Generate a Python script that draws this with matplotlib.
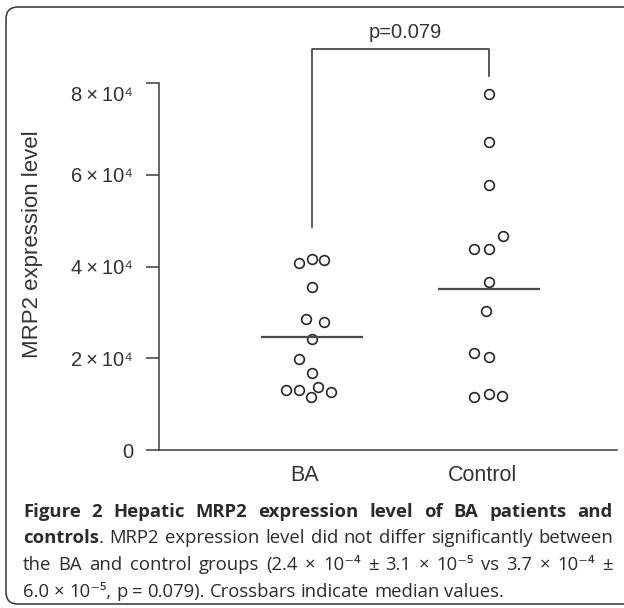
import matplotlib
matplotlib.use('Agg')
import matplotlib.pyplot as plt
from matplotlib.patches import FancyBboxPatch
from matplotlib.transforms import IdentityTransform, ScaledTranslation
import numpy as np

# data
groups = ['BA', 'Control']
ba_values = [4.07e4, 4.16e4, 4.14e4, 3.55e4, 2.86e4, 2.79e4, 2.42e4,
             1.98e4, 1.67e4, 1.31e4, 1.31e4, 1.37e4, 1.16e4, 1.26e4]
ctrl_values = [7.76e4, 6.71e4, 5.78e4, 4.66e4, 4.38e4, 4.38e4, 3.66e4,
               3.03e4, 2.11e4, 2.03e4, 1.16e4, 1.22e4, 1.18e4]
medians = [2.46e4, 3.51e4]
p_label = 'p=0.079'
yticks = [0, 2e4, 4e4, 6e4, 8e4]
ytick_labels = ['0', '2\u2009×\u200910⁴', '4\u2009×\u200910⁴',
                '6\u2009×\u200910⁴', '8\u2009×\u200910⁴']

# horizontal swarm offsets of the dots (group spacing = 1)
ba_dx = [-0.073, 0, 0.068, 0, -0.034, 0.068, 0, -0.073, 0, -0.147, -0.073, 0.034, -0.005, 0.107]
ctrl_dx = [0, 0, 0, 0.079, -0.085, 0, 0, -0.017, -0.085, 0, -0.085, 0, 0.073]

W, H = 624, 608
fig = plt.figure(figsize=(W / 100, H / 100), dpi=100)
fig.patch.set_facecolor('white')

line_c = '#3c3c3c'
text_c = '#333333'
sans = ['Liberation Sans', 'DejaVu Sans']

ax = fig.add_axes([159 / W, (H - 450) / H, (617 - 159) / W, (450 - 83) / H])
ax.set_xlim(-0.864, 1.723)
ax.set_ylim(0, 8e4)
for s in ['top', 'right']:
    ax.spines[s].set_visible(False)
for s in ['left', 'bottom']:
    ax.spines[s].set_linewidth(1.1)
    ax.spines[s].set_color(line_c)

ax.set_yticks(yticks, ytick_labels)
ax.set_xticks([0, 1], groups)
ax.tick_params(axis='y', length=9.4, width=1.1, pad=9.4, color=line_c,
               labelcolor=text_c, labelsize=14.5)
ax.tick_params(axis='x', length=0, pad=11, labelcolor=text_c, labelsize=15.5)
for lab in ax.get_yticklabels() + ax.get_xticklabels():
    lab.set_family(sans)
# top label sits a little below its tick in the original
top = ax.get_yticklabels()[-1]
top.set_transform(top.get_transform() + ScaledTranslation(0, -0.10, fig.dpi_scale_trans))
for lab in ax.get_xticklabels():
    lab.set_transform(lab.get_transform() + ScaledTranslation(-0.07, 0, fig.dpi_scale_trans))

# dots
ax.plot(np.array(ba_dx) + 0, ba_values, 'o', mfc='none', mec='#262626',
        ms=7, mew=1.2, clip_on=False)
ax.plot(np.array(ctrl_dx) + 1, ctrl_values, 'o', mfc='none', mec='#262626',
        ms=7, mew=1.2, clip_on=False)

# median crossbars
centers = np.array([0, 1])
ax.hlines(medians, centers - 0.288, centers + 0.288, color='#4a4a4a', lw=1.6)

# significance bracket
ax.plot([0, 0, 1, 1], [4.86e4, 8.74e4, 8.74e4, 8.15e4], color=line_c,
        lw=1.2, clip_on=False)
ax.text(0.525, 9.09e4, p_label, ha='center', va='center', fontsize=14.5,
        color=text_c, family=sans, clip_on=False)

fig.text(33 / W, 1 - 244 / H, 'MRP2 expression level', rotation=90,
         ha='center', va='center', fontsize=16, color=text_c, family=sans)

# frame around figure + caption
frame = FancyBboxPatch((6 + 12, 4 + 12), 650, 597 - 24,
                       boxstyle='round,pad=12', transform=IdentityTransform(),
                       fill=False, ec='#333333', lw=1.1)
fig.patches.append(frame)

# caption, justified like the journal layout
cap_family = ['Open Sans', 'DejaVu Sans']
cap_size = 13.3
cap_c = '#2b2b2b'
renderer = fig.canvas.get_renderer()


def seg_width(s, bold):
    t = fig.text(0, 0, s, fontsize=cap_size, family=cap_family,
                 fontweight='bold' if bold else 'normal')
    w = t.get_window_extent(renderer).width
    t.remove()
    return w


def put_line(words, base, x0=23, x1=613, justify=True):
    widths = [sum(seg_width(s, b) for s, b in wd) for wd in words]
    if justify:
        gap = (x1 - x0 - sum(widths)) / (len(words) - 1)
    else:
        gap = seg_width('a a', False) - seg_width('aa', False)
    x = x0
    for wd, w in zip(words, widths):
        xx = x
        for s, b in wd:
            fig.text(xx / W, 1 - base / H, s, fontsize=cap_size, family=cap_family,
                     fontweight='bold' if b else 'normal', color=cap_c,
                     ha='left', va='baseline')
            xx += seg_width(s, b)
        x += w + gap


def words_of(text, bold):
    return [[(w, bold)] for w in text.split()]


line1 = words_of('Figure 2 Hepatic MRP2 expression level of BA patients and', True)
line2 = [[('controls', True), ('.', False)]] + words_of(
    'MRP2 expression level did not differ significantly between', False)
line3 = words_of('the BA and control groups (2.4 × 10⁻⁴ ± 3.1 × 10⁻⁵ vs 3.7 × 10⁻⁴ ±', False)
line4 = words_of('6.0 × 10⁻⁵, p = 0.079). Crossbars indicate median values.', False)

put_line(line1, 517)
put_line(line2, 543)
put_line(line3, 570)
put_line(line4, 597, justify=False)

fig.savefig('out.png', dpi=100)
